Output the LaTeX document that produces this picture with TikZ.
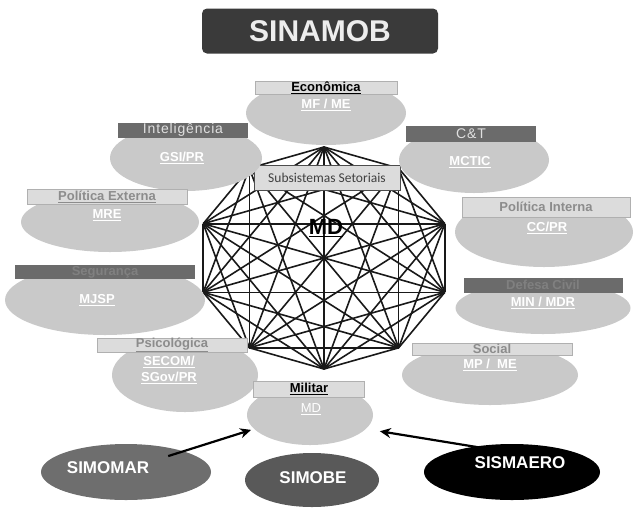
\documentclass[tikz,border=0pt]{standalone}
\usepackage{fontspec}
\setmainfont{Liberation Sans}
\newfontfamily\narrowfont{Carlito}
\usepackage{xcolor}
\usetikzlibrary{arrows.meta}
\usetikzlibrary{shapes.geometric}

\definecolor{ovalgray}{HTML}{C9C9C9}
\definecolor{barlight}{HTML}{DCDCDC}
\definecolor{barline}{HTML}{B0B0B0}
\definecolor{bardark}{HTML}{6B6B6B}
\definecolor{hdgray}{HTML}{8C8C8C}
\definecolor{titlebox}{HTML}{3A3A3A}

\begin{document}
\begin{tikzpicture}[x=1pt,y=-1pt,
    oval/.style={ellipse, fill=ovalgray, inner sep=0pt},
    headlight/.style={fill=barlight, draw=barline, inner sep=0pt, text=hdgray,
        font=\fontsize{13}{14}\selectfont\bfseries},
    headdark/.style={fill=bardark, inner sep=0pt, text=hdgray,
        font=\fontsize{13}{14}\selectfont\bfseries},
    headthin/.style={headdark, text=white!88!black,
        font=\fontsize{14}{15}\selectfont\addfontfeatures{LetterSpace=6}},
    sublabel/.style={text=white, align=center, font=\fontsize{13}{16}\selectfont\bfseries},
    system/.style={ellipse, inner sep=0pt},
    systext/.style={text=white, font=\fontsize{17}{20}\selectfont\bfseries},
    arrowline/.style={-{Stealth[length=11pt,width=10pt]}, line width=2.2pt}]
    \useasboundingbox (0,0) rectangle (634,507);

    % titulo
    \node[fill=titlebox, rounded corners=5pt, minimum width=236pt, minimum height=45pt,
        text=white!93!black, font=\fontsize{30}{34}\selectfont\bfseries] (sinamob) at (320,31) {SINAMOB};

    % decagono
    \foreach \i in {0,...,9} {
        \coordinate (v\i) at ({324+127*cos(90+36*\i)},{258-111*sin(90+36*\i)});
    }
    \foreach \i in {0,...,9} {
        \foreach \j in {0,...,9} {
            \ifnum\i<\j
                \draw[line width=1.6pt, black!90] (v\i) -- (v\j);
            \fi
        }
    }
    \node[fill=barlight, draw=black!70, minimum width=146pt, minimum height=25pt,
        text=black!75, font=\narrowfont\fontsize{13.5}{15}\selectfont] (subsist) at (327,178) {Subsistemas Setoriais};
    \node[font=\fontsize{22}{24}\selectfont\bfseries] (md) at (326,228) {\underline{MD}};

    % setores
    \node[oval, minimum width=160pt, minimum height=64pt] (econ) at (326,113) {};
    \node[headlight, text=black, minimum width=142pt, minimum height=13pt] (econhd) at (326,88) {\underline{Econômica}};
    \node[sublabel] (econsub) at (326,105) {\underline{MF / ME}};

    \node[oval, minimum width=152pt, minimum height=66pt] (intel) at (186,158) {};
    \node[headthin, minimum width=130pt, minimum height=15pt] (intelhd) at (183,130) {Inteligência};
    \node[sublabel] (intelsub) at (182,158) {\underline{GSI/PR}};

    \node[oval, minimum width=150pt, minimum height=66pt] (ciencia) at (474,160) {};
    \node[headthin, minimum width=130pt, minimum height=16pt] (cienciahd) at (471,134) {C\&T};
    \node[sublabel] (cienciasub) at (470,162) {\underline{MCTIC}};

    \node[oval, minimum width=178pt, minimum height=60pt] (pext) at (110,222) {};
    \node[headlight, minimum width=160pt, minimum height=15pt] (pexthd) at (107,197) {\underline{Política Externa}};
    \node[sublabel] (pextsub) at (107,215) {\underline{MRE}};

    \node[oval, minimum width=178pt, minimum height=70pt] (pint) at (544,232) {};
    \node[headlight, minimum width=168pt, minimum height=20pt] (pinthd) at (546,207) {Política Interna};
    \node[sublabel] (pintsub) at (547,228) {\underline{CC/PR}};

    \node[oval, minimum width=200pt, minimum height=70pt] (segur) at (105,300) {};
    \node[headdark, text=black!50, minimum width=180pt, minimum height=14pt] (segurhd) at (105,272) {Segurança};
    \node[sublabel] (segursub) at (97,300) {\underline{MJSP}};

    \node[oval, minimum width=175pt, minimum height=52pt] (defesa) at (543,308) {};
    \node[headdark, text=black!50, minimum width=159pt, minimum height=15pt] (defesahd) at (543,285) {Defesa Civil};
    \node[sublabel] (defesasub) at (543,303) {\underline{MIN / MDR}};

    \node[oval, minimum width=146pt, minimum height=74pt] (psico) at (185,375) {};
    \node[headlight, minimum width=150pt, minimum height=14pt] (psicohd) at (172,345) {\underline{Psicológica}};
    \node[sublabel] (psicosub) at (169,370) {\underline{SECOM/}\\\underline{SGov/PR}};

    \node[oval, minimum width=176pt, minimum height=60pt] (social) at (490,375) {};
    \node[headlight, minimum width=160pt, minimum height=12pt] (socialhd) at (492,349) {Social};
    \node[sublabel] (socialsub) at (490,365) {\underline{MP /\ \ ME}};

    \node[oval, minimum width=126pt, minimum height=60pt] (militar) at (310,415) {};
    \node[headlight, text=black, minimum width=111pt, minimum height=16pt] (militarhd) at (309,389) {\underline{Militar}};
    \node[sublabel, font=\fontsize{13}{16}\selectfont] (militarsub) at (311,409) {\underline{MD}};

    % forcas
    \node[system, fill=black!57, minimum width=170pt, minimum height=56pt] (simomar) at (126,472) {};
    \node[systext] (simomartxt) at (108,468) {SIMOMAR};
    \node[system, fill=black!65, minimum width=134pt, minimum height=54pt] (simobe) at (312,480) {};
    \node[systext] (simobetxt) at (313,478) {SIMOBE};
    \node[system, fill=black, minimum width=176pt, minimum height=56pt] (sismaero) at (512,472) {};
    \node[systext] (sismaerotxt) at (520,463) {SISMAERO};

    \draw[arrowline, shorten >=3pt] ([xshift=-18pt,yshift=-4pt]simomar.north east) -- (militar.194);
    \draw[arrowline, shorten >=14pt] ([xshift=-12pt,yshift=-7pt]sismaero.north) -- (militar.-14);
\end{tikzpicture}
\end{document}
